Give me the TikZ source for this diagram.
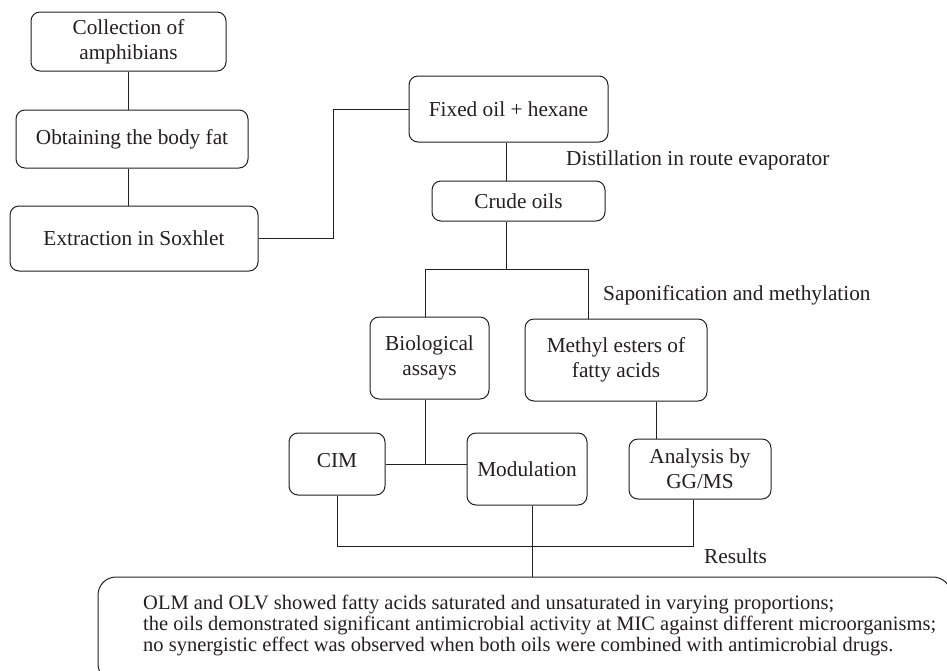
\documentclass[tikz,border=0pt]{standalone}
\usepackage{fontspec}
\setmainfont{Liberation Serif}
\usepackage{tikz}
\usetikzlibrary{positioning, calc}
\definecolor{inkgray}{RGB}{35,31,32}

\begin{document}
\begin{tikzpicture}[
    x=1pt, y=-1pt,
    step_box/.style={draw=inkgray, line width=1pt, rounded corners=9pt, inner sep=0pt, align=center, text=inkgray, font=\fontsize{21.3}{25}\selectfont},
    note_box/.style={draw=inkgray, line width=1pt, rounded corners=18pt, inner sep=0pt},
    note_text/.style={anchor=west, inner sep=0pt, align=left, text=inkgray, font=\fontsize{20.5}{20.7}\selectfont},
    step_label/.style={anchor=west, inner sep=0pt, text=inkgray, font=\fontsize{21.3}{25}\selectfont},
    link/.style={draw=inkgray, line width=1pt}
]
    \useasboundingbox (0,0) rectangle (947,670);
    \clip (0,0) rectangle (947,670);

    % Left column: preparing the fat
    \node[step_box, minimum width=195pt, minimum height=59pt] (collect) at (128.5,41.5) {Collection of\\amphibians};
    \node[step_box, minimum width=232pt, minimum height=58pt] (fat) at (132,139) {Obtaining the body fat};
    \node[step_box, minimum width=248pt, minimum height=65pt] (soxhlet) at (134,238.5) {Extraction in Soxhlet};

    \draw[link] (collect.south) -- (collect.south |- fat.north);
    \draw[link] (collect.south |- fat.south) -- (collect.south |- soxhlet.north);

    % Oil and its two branches
    \node[step_box, minimum width=199pt, minimum height=66pt] (fixed) at (508.5,109) {Fixed oil + hexane};
    \node[step_box, minimum width=173pt, minimum height=40pt] (crude) at (518.5,201) {Crude oils};
    \node[step_box, minimum width=119pt, minimum height=82pt] (bio) at (429.5,358) {Biological\\assays};
    \node[step_box, minimum width=182pt, minimum height=82pt] (esters) at (616,360) {Methyl esters of\\fatty acids};

    \draw[link] (soxhlet.east) -- ([xshift=75pt]soxhlet.east) |- (fixed.west);
    \draw[link] ([xshift=-2.5pt]fixed.south) -- ([xshift=-2.5pt]fixed.south |- crude.north);
    \draw[link] ([xshift=-2.5pt]fixed.south |- crude.south) -- ++(0,48) coordinate (split);
    \draw[link] ([xshift=-4.5pt]bio.north) |- (split) -| ([xshift=-28pt]esters.north);

    \node[step_label] (distil) at (566,160) {Distillation in route evaporator};
    \node[step_label] (sapon) at (603,295) {Saponification and methylation};

    % Assays and analysis
    \node[step_box, minimum width=96pt, minimum height=62pt] (cim) at (337,464) {\raisebox{7pt}{CIM}};
    \node[step_box, minimum width=120pt, minimum height=72pt] (modul) at (527,469) {Modulation};
    \node[step_box, minimum width=142pt, minimum height=60pt] (gcms) at (700,469) {Analysis by\\GG/MS};

    \draw[link] (cim.east) -- (cim.east -| modul.west);
    \draw[link] ([xshift=-4.5pt]bio.south) -- ([xshift=-4.5pt]bio.south |- cim.east);
    \draw[link] ([xshift=40pt]esters.south) -- ([xshift=40pt]esters.south |- gcms.north);

    % Results
    \node[note_box, minimum width=853pt, minimum height=105pt] (result) at (524.5,629.5) {};
    \node[note_text] (result_text) at (143,625.5) {OLM and OLV showed fatty acids saturated and unsaturated in varying proportions;\\the oils demonstrated significant antimicrobial activity at MIC against different microorganisms;\\no synergistic effect was observed when both oils were combined with antimicrobial drugs.};
    \node[step_label] (res_label) at (704,556) {Results};

    \draw[link] (cim.south) -- ([yshift=-51pt]cim.south) -| ([xshift=-7pt]gcms.south);
    \draw[link] ([xshift=5pt]modul.south) -- ([xshift=5pt]modul.south |- result.north);

\end{tikzpicture}
\end{document}
